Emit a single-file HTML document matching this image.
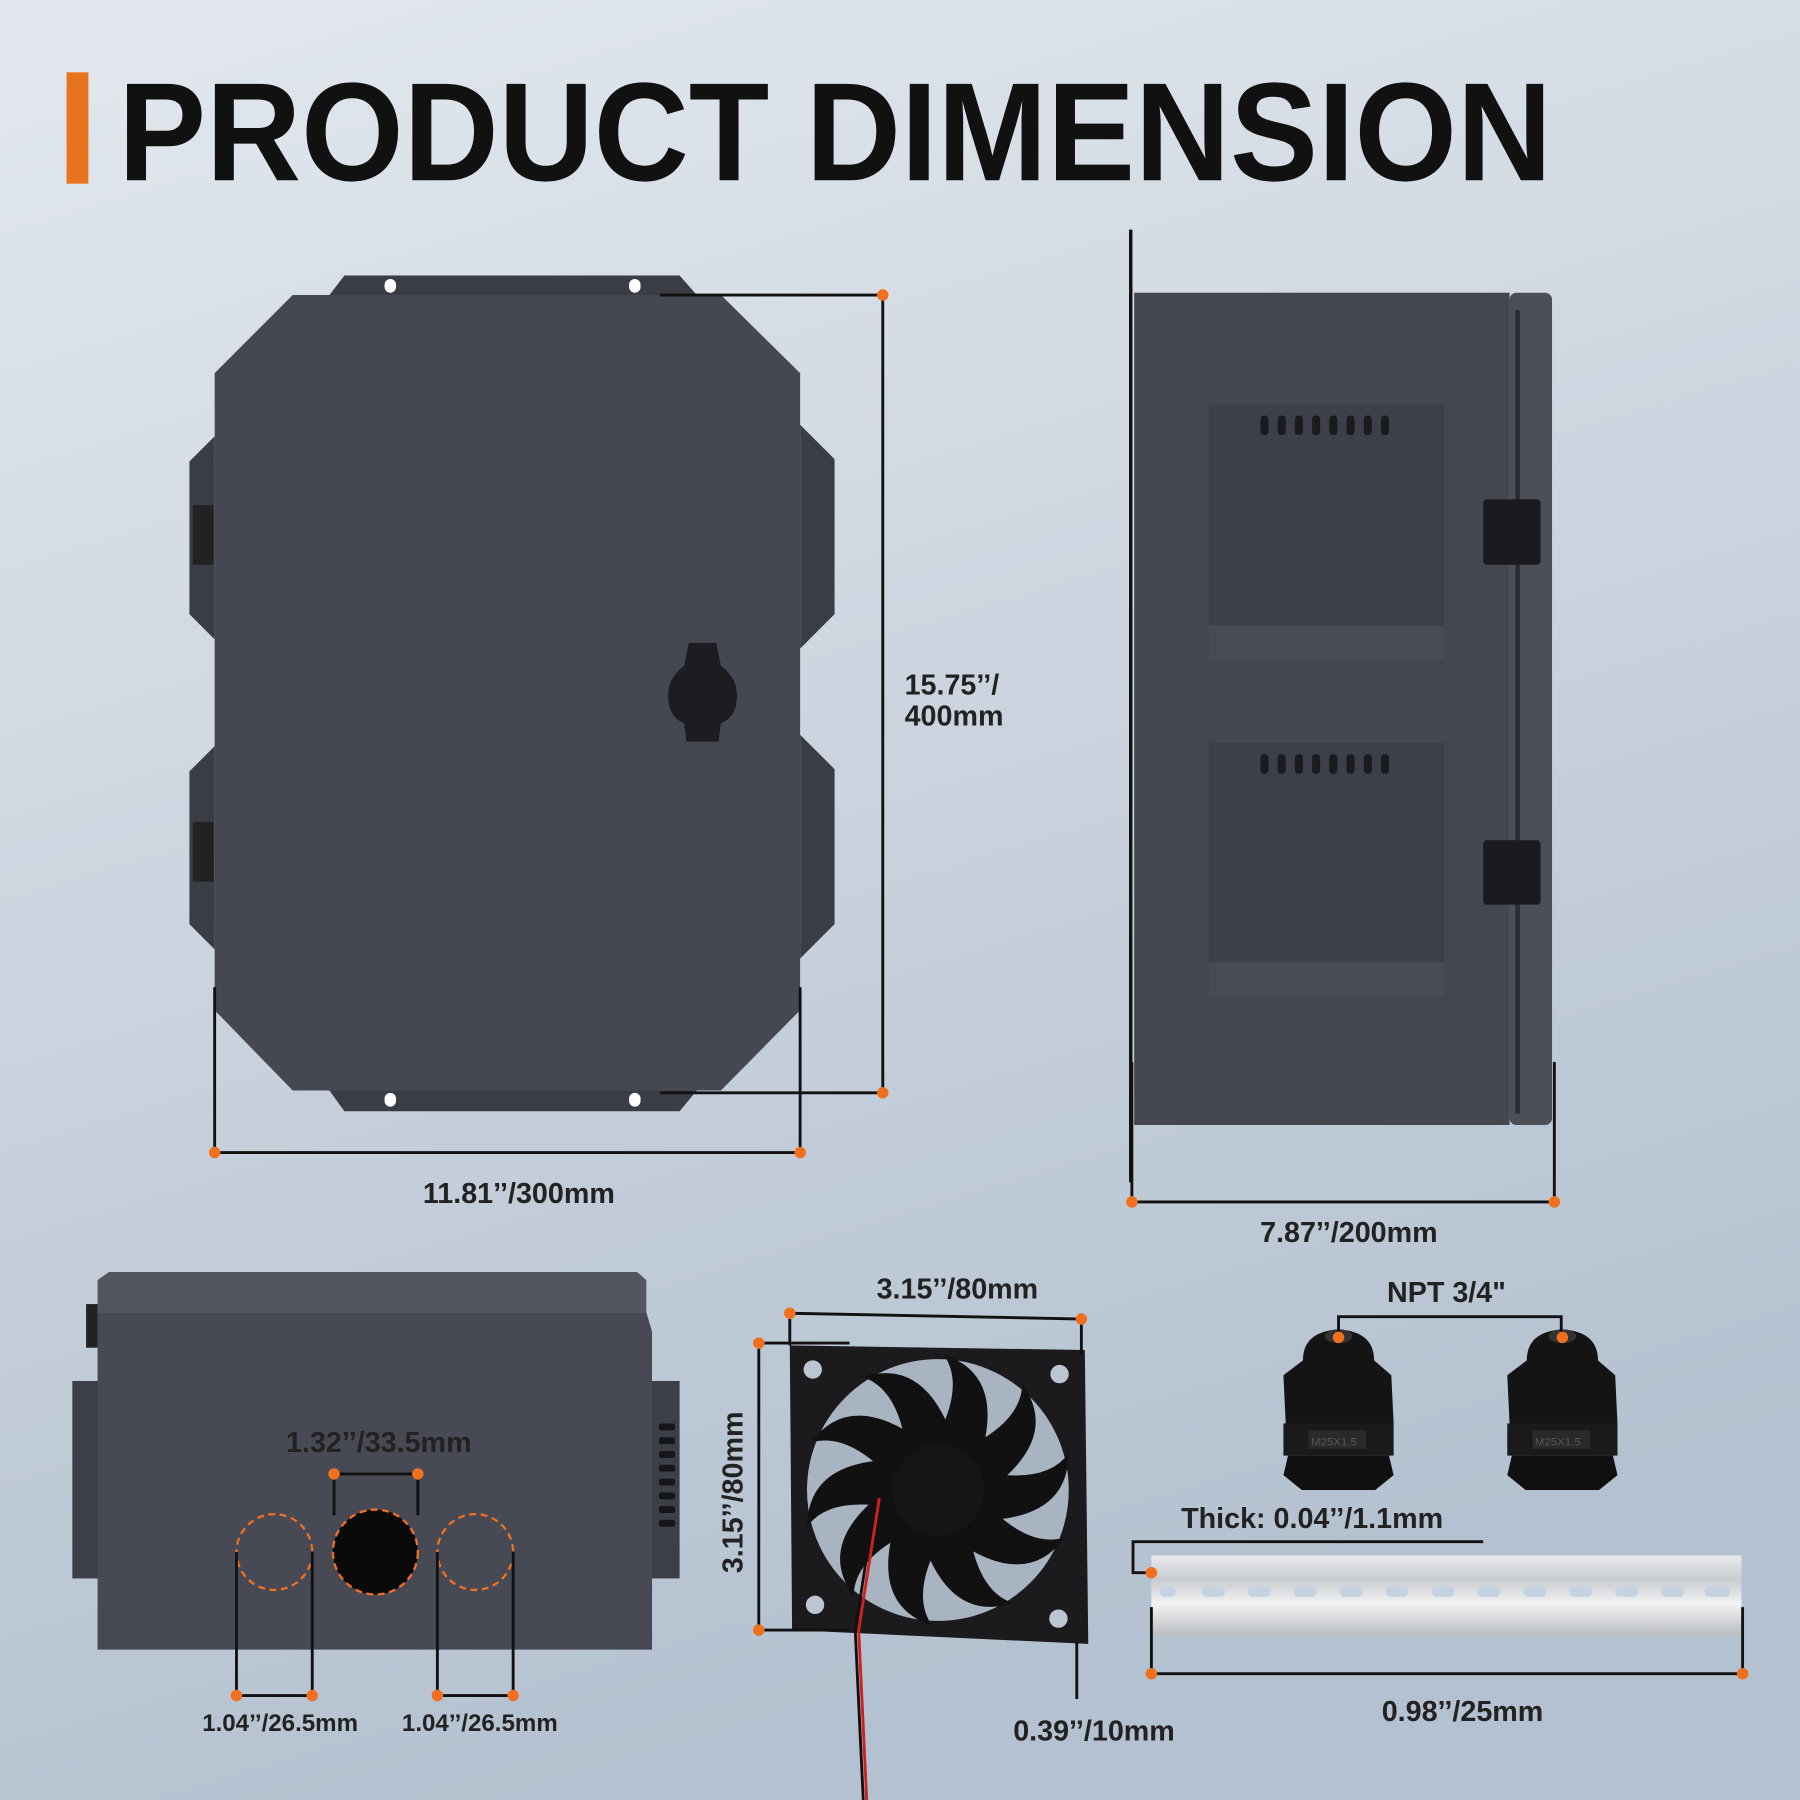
<!DOCTYPE html>
<html><head><meta charset="utf-8"><style>html,body{margin:0;padding:0;width:1800px;height:1800px;overflow:hidden}svg{display:block}</style></head><body>
<svg width="1800" height="1800" viewBox="0 0 1568 1568" xmlns="http://www.w3.org/2000/svg" font-family="Liberation Sans, sans-serif">
<defs>
<linearGradient id="bg" x1="0" y1="0" x2="0.3" y2="1"><stop offset="0" stop-color="#e3e8ee"/><stop offset="1" stop-color="#b4c1d0"/></linearGradient>
<linearGradient id="rail" x1="0" y1="0" x2="0" y2="1"><stop offset="0" stop-color="#e8eaec"/><stop offset="0.3" stop-color="#c9ccd0"/><stop offset="0.6" stop-color="#f2f3f4"/><stop offset="1" stop-color="#b9bcc0"/></linearGradient>
</defs>
<rect width="1568" height="1568" fill="url(#bg)"/>
<rect x="58" y="63" width="19" height="97" fill="#e8731e"/>
<text x="103" y="157" font-size="122" font-weight="bold" fill="#111" textLength="1249" lengthAdjust="spacingAndGlyphs">PRODUCT DIMENSION</text>

<!-- front view -->
<g fill="#3a3d46">
<polygon points="287,257 300,240 592,240 607,257"/>
<polygon points="287,950 300,968 592,968 607,950"/>
<polygon points="187,380 165,402 165,535 187,557"/>
<polygon points="187,650 165,672 165,805 187,827"/>
<polygon points="697,370 727,400 727,535 697,565"/>
<polygon points="697,640 727,670 727,805 697,835"/>
</g>
<g fill="#fff"><rect x="335" y="243" width="10" height="12" rx="5"/><rect x="548" y="243" width="10" height="12" rx="5"/><rect x="335" y="952" width="10" height="12" rx="5"/><rect x="548" y="952" width="10" height="12" rx="5"/></g>
<polygon points="187,325 255,257 628,257 697,325 697,880 628,950 255,950 187,880" fill="#454852"/>
<rect x="168" y="440" width="18" height="52" fill="#222"/><rect x="168" y="716" width="18" height="52" fill="#222"/>
<path d="M600,560 L624,560 L628,580 Q642,590 642,606 Q642,625 628,630 L626,646 L598,646 L596,630 Q582,625 582,606 Q582,590 596,580 Z" fill="#1c1d22"/>

<g stroke="#111" stroke-width="2.5" fill="none">
<path d="M575,257H769V952H575"/>
<path d="M187,860V1004H697V860"/>
<path d="M986,925V1047H1354V925"/>
<path d="M985,200V1030" stroke-width="3"/>
</g>
<g fill="#f07020"><circle cx="769" cy="257" r="5"/><circle cx="769" cy="952" r="5"/><circle cx="187" cy="1004" r="5"/><circle cx="697" cy="1004" r="5"/><circle cx="986" cy="1047" r="5"/><circle cx="1354" cy="1047" r="5"/></g>
<g font-size="25" font-weight="bold" fill="#222">
<text x="788" y="605">15.75’’/</text><text x="788" y="632">400mm</text>
<text x="452" y="1048" text-anchor="middle">11.81’’/300mm</text>
<text x="1175" y="1082" text-anchor="middle">7.87’’/200mm</text>
</g>

<!-- side view -->
<rect x="988" y="255" width="327" height="725" fill="#44474f"/>
<rect x="1315" y="255" width="37" height="725" rx="6" fill="#4c4f58"/>
<rect x="1320" y="270" width="4" height="700" fill="#2a2c32"/>
<g fill="#3d404a">
<rect x="1053" y="353" width="205" height="222"/><rect x="1053" y="647" width="205" height="221"/>
</g>
<g fill="#484b55"><rect x="1053" y="545" width="205" height="30"/><rect x="1053" y="838" width="205" height="30"/></g>
<g fill="#1a1b1f">
<rect x="1098" y="362" width="7" height="17" rx="3"/><rect x="1113" y="362" width="7" height="17" rx="3"/><rect x="1128" y="362" width="7" height="17" rx="3"/><rect x="1143" y="362" width="7" height="17" rx="3"/><rect x="1158" y="362" width="7" height="17" rx="3"/><rect x="1173" y="362" width="7" height="17" rx="3"/><rect x="1188" y="362" width="7" height="17" rx="3"/><rect x="1203" y="362" width="7" height="17" rx="3"/>
<rect x="1098" y="657" width="7" height="17" rx="3"/><rect x="1113" y="657" width="7" height="17" rx="3"/><rect x="1128" y="657" width="7" height="17" rx="3"/><rect x="1143" y="657" width="7" height="17" rx="3"/><rect x="1158" y="657" width="7" height="17" rx="3"/><rect x="1173" y="657" width="7" height="17" rx="3"/><rect x="1188" y="657" width="7" height="17" rx="3"/><rect x="1203" y="657" width="7" height="17" rx="3"/>
<rect x="1292" y="435" width="50" height="57" rx="3"/><rect x="1292" y="732" width="50" height="56" rx="3"/>
</g>

<!-- bottom view -->
<rect x="63" y="1203" width="24" height="172" fill="#3c3f48"/>
<rect x="566" y="1203" width="26" height="172" fill="#3c3f48"/>
<polygon points="85,1143 563,1143 568,1160 568,1437 85,1437" fill="#474a54"/>
<polygon points="85,1115 95,1108 555,1108 563,1115 563,1143 85,1143" fill="#53565f"/>
<rect x="75" y="1136" width="10" height="38" fill="#222"/>
<g fill="#15161a"><rect x="574" y="1240" width="14" height="6" rx="2"/><rect x="574" y="1252" width="14" height="6" rx="2"/><rect x="574" y="1264" width="14" height="6" rx="2"/><rect x="574" y="1276" width="14" height="6" rx="2"/><rect x="574" y="1288" width="14" height="6" rx="2"/><rect x="574" y="1300" width="14" height="6" rx="2"/><rect x="574" y="1312" width="14" height="6" rx="2"/><rect x="574" y="1324" width="14" height="6" rx="2"/></g>
<circle cx="239" cy="1352" r="33" fill="none" stroke="#f07020" stroke-width="2" stroke-dasharray="6,4"/>
<circle cx="414" cy="1352" r="33" fill="none" stroke="#f07020" stroke-width="2" stroke-dasharray="6,4"/>
<circle cx="327" cy="1352" r="37" fill="#0a0a0a" stroke="#f07020" stroke-width="2" stroke-dasharray="6,4"/>
<g stroke="#111" stroke-width="2.5" fill="none">
<path d="M291,1320V1284H364V1320"/>
<path d="M206,1352V1477H272V1352"/>
<path d="M381,1352V1477H447V1352"/>
</g>
<g fill="#f07020"><circle cx="291" cy="1284" r="5"/><circle cx="364" cy="1284" r="5"/><circle cx="206" cy="1477" r="5"/><circle cx="272" cy="1477" r="5"/><circle cx="381" cy="1477" r="5"/><circle cx="447" cy="1477" r="5"/></g>
<g font-weight="bold" fill="#222">
<text x="330" y="1265" font-size="25" text-anchor="middle">1.32’’/33.5mm</text>
<text x="244" y="1508" font-size="21" text-anchor="middle">1.04’’/26.5mm</text>
<text x="418" y="1508" font-size="21" text-anchor="middle">1.04’’/26.5mm</text>
</g>

<!-- fan -->
<polygon points="688,1172 945,1176 948,1432 690,1420" fill="#1b1b1d"/>
<circle cx="817" cy="1298" r="118" fill="#a9b4c2"/>
<circle cx="817" cy="1298" r="118" fill="none" stroke="#1b1b1d" stroke-width="8"/>
<g fill="#111" transform="translate(817,1298)">
<path d="M-5,-38 Q25,-90 5,-118 Q60,-100 36,-25 Z"/>
<path d="M-5,-38 Q25,-90 5,-118 Q60,-100 36,-25 Z" transform="rotate(36)"/>
<path d="M-5,-38 Q25,-90 5,-118 Q60,-100 36,-25 Z" transform="rotate(72)"/>
<path d="M-5,-38 Q25,-90 5,-118 Q60,-100 36,-25 Z" transform="rotate(108)"/>
<path d="M-5,-38 Q25,-90 5,-118 Q60,-100 36,-25 Z" transform="rotate(144)"/>
<path d="M-5,-38 Q25,-90 5,-118 Q60,-100 36,-25 Z" transform="rotate(180)"/>
<path d="M-5,-38 Q25,-90 5,-118 Q60,-100 36,-25 Z" transform="rotate(216)"/>
<path d="M-5,-38 Q25,-90 5,-118 Q60,-100 36,-25 Z" transform="rotate(252)"/>
<path d="M-5,-38 Q25,-90 5,-118 Q60,-100 36,-25 Z" transform="rotate(288)"/>
<path d="M-5,-38 Q25,-90 5,-118 Q60,-100 36,-25 Z" transform="rotate(324)"/>
<circle r="40" fill="#151515"/>
</g>
<g fill="#bcc6d2"><circle cx="708" cy="1193" r="8"/><circle cx="923" cy="1197" r="8"/><circle cx="710" cy="1398" r="8"/><circle cx="922" cy="1410" r="8"/></g>
<path d="M766,1305 L748,1420 L755,1568" stroke="#d02020" stroke-width="2.5" fill="none"/>
<path d="M763,1305 L745,1420 L752,1568" stroke="#111" stroke-width="2.5" fill="none"/>
<g stroke="#111" stroke-width="2.5" fill="none">
<path d="M688,1172V1144L942,1149V1180"/>
<path d="M740,1170H661V1420H740"/>
<path d="M938,1430V1480"/>
</g>
<g fill="#f07020"><circle cx="688" cy="1144" r="5"/><circle cx="942" cy="1149" r="5"/><circle cx="661" cy="1170" r="5"/><circle cx="661" cy="1420" r="5"/></g>
<g font-weight="bold" fill="#222" font-size="25">
<text x="834" y="1131" text-anchor="middle">3.15’’/80mm</text>
<text transform="translate(647,1300) rotate(-90)" text-anchor="middle">3.15’’/80mm</text>
<text x="953" y="1516" text-anchor="middle">0.39’’/10mm</text>
<text x="1260" y="1134" text-anchor="middle">NPT 3/4"</text>
<text x="1143" y="1331" text-anchor="middle">Thick:  0.04’’/1.1mm</text>
<text x="1274" y="1499" text-anchor="middle">0.98’’/25mm</text>
</g>

<!-- glands -->
<g id="gl">
<path d="M1135,1185 Q1135,1160 1166,1158 Q1197,1160 1197,1185 L1212,1198 L1214,1240 L1120,1240 L1118,1198 Z" fill="#141414"/>
<rect x="1118" y="1240" width="96" height="28" fill="#1a1a1a"/>
<polygon points="1122,1268 1210,1268 1214,1285 1198,1298 1134,1298 1118,1285" fill="#101010"/>
<rect x="1140" y="1246" width="50" height="16" fill="#2a2a2a"/>
<ellipse cx="1166" cy="1164" rx="12" ry="6" fill="#333"/>
</g>
<use href="#gl" transform="translate(195,0)"/>
<g stroke="#111" stroke-width="2.5" fill="none"><path d="M1166,1165V1147H1360V1165"/></g>
<g fill="#f07020"><circle cx="1166" cy="1165" r="5"/><circle cx="1361" cy="1165" r="5"/></g>
<g font-size="10" fill="#555"><text x="1142" y="1259">M25X1.5</text><text x="1337" y="1259">M25X1.5</text></g>

<!-- DIN rail -->
<rect x="1003" y="1355" width="514" height="70" fill="url(#rail)"/>
<g fill="#c4d2e2">
<rect x="1010" y="1382" width="14" height="9" rx="4"/><rect x="1047" y="1382" width="20" height="9" rx="4"/><rect x="1087" y="1382" width="20" height="9" rx="4"/><rect x="1127" y="1382" width="20" height="9" rx="4"/><rect x="1167" y="1382" width="20" height="9" rx="4"/><rect x="1207" y="1382" width="20" height="9" rx="4"/><rect x="1247" y="1382" width="20" height="9" rx="4"/><rect x="1287" y="1382" width="20" height="9" rx="4"/><rect x="1327" y="1382" width="20" height="9" rx="4"/><rect x="1367" y="1382" width="20" height="9" rx="4"/><rect x="1407" y="1382" width="20" height="9" rx="4"/><rect x="1447" y="1382" width="20" height="9" rx="4"/><rect x="1485" y="1382" width="22" height="9" rx="4"/>
</g>
<g stroke="#111" stroke-width="2.5" fill="none">
<path d="M1292,1343H987V1370H1003"/>
<path d="M1003,1400V1458H1518V1400"/>
</g>
<g fill="#f07020"><circle cx="1003" cy="1370" r="5"/><circle cx="1003" cy="1458" r="5"/><circle cx="1518" cy="1458" r="5"/></g>
</svg>
</body></html>
